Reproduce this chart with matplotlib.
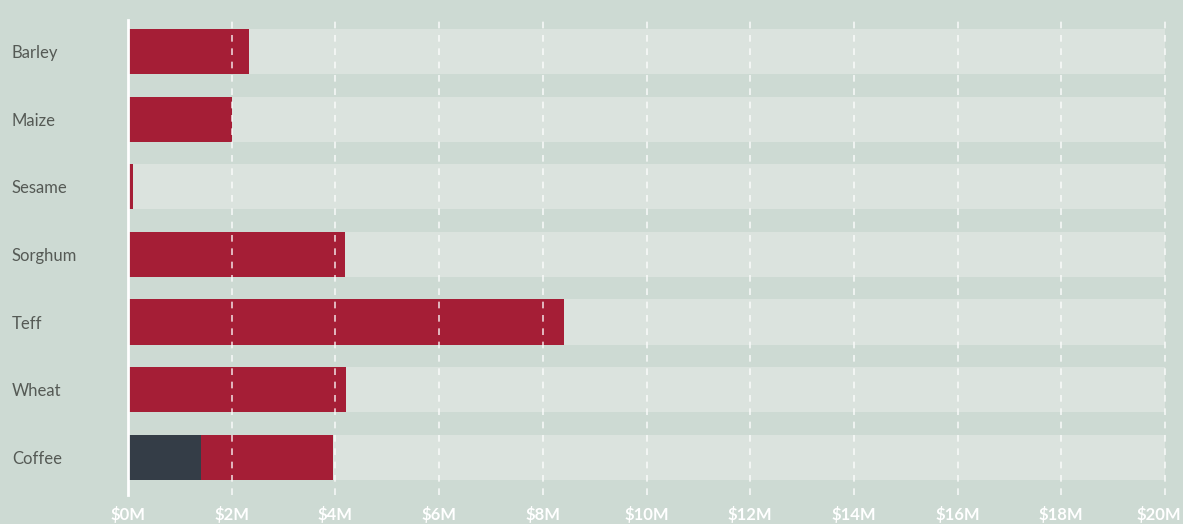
import matplotlib.pyplot as plt
import matplotlib.transforms as mtransforms
import numpy as np

crops = ["Barley", "Maize", "Sesame", "Sorghum", "Teff", "Wheat", "Coffee"]
# values in $M
main_values = [2.33, 2.0, 0.1, 4.19, 8.41, 4.2, 3.95]
coffee_dark = 1.41
max_value = 20

ticks = np.arange(0, 21, 2)
tick_labels = ["$%dM" % t for t in ticks]

BG = "#cddad3"
TRACK = "#dbe3de"
RED = "#a51e36"
DARK = "#343d47"


def main():
    fig = plt.figure(figsize=(11.83, 5.24), dpi=100)
    fig.patch.set_facecolor(BG)
    ax = fig.add_axes([128 / 1183, 1 - 495 / 524, (1165 - 128) / 1183, 475 / 524])
    ax.set_facecolor(BG)

    y = np.arange(len(crops))
    h = 0.667
    ax.barh(y, [max_value] * len(crops), height=h, color=TRACK, zorder=1)
    ax.barh(y, main_values, height=h, color=RED, zorder=2)
    ax.barh(y[-1], coffee_dark, height=h, color=DARK, zorder=3)

    for t in ticks[1:]:
        ax.axvline(t, color="white", lw=1.2, ls=(0, (4, 4)), alpha=0.8, zorder=4,
                   clip_on=False)
    ax.axvline(0, color="white", lw=2, zorder=5, clip_on=False)

    ax.set_xlim(0, max_value)
    ax.set_ylim(6.56, -0.47)
    ax.set_xticks(ticks)
    ax.set_xticklabels(tick_labels, color="white", fontsize=12, fontweight="bold",
                       family="Lato")
    ax.set_yticks(y)
    ax.set_yticklabels(crops, color="#555a55", fontsize=12, family="Lato")
    ax.tick_params(axis="x", length=0, pad=8)
    ax.tick_params(axis="y", length=0, pad=0)
    for lbl in ax.get_yticklabels():
        lbl.set_horizontalalignment("left")
        lbl.set_x(-116 / (1165 - 128))
    # keep the last tick label inside the figure
    last = ax.get_xticklabels()[-1]
    shift = mtransforms.ScaledTranslation(-6 / 100, 0, fig.dpi_scale_trans)
    last.set_transform(last.get_transform() + shift)
    for s in ax.spines.values():
        s.set_visible(False)

    fig.savefig("out.png", dpi=100, facecolor=BG)


if __name__ == "__main__":
    main()
